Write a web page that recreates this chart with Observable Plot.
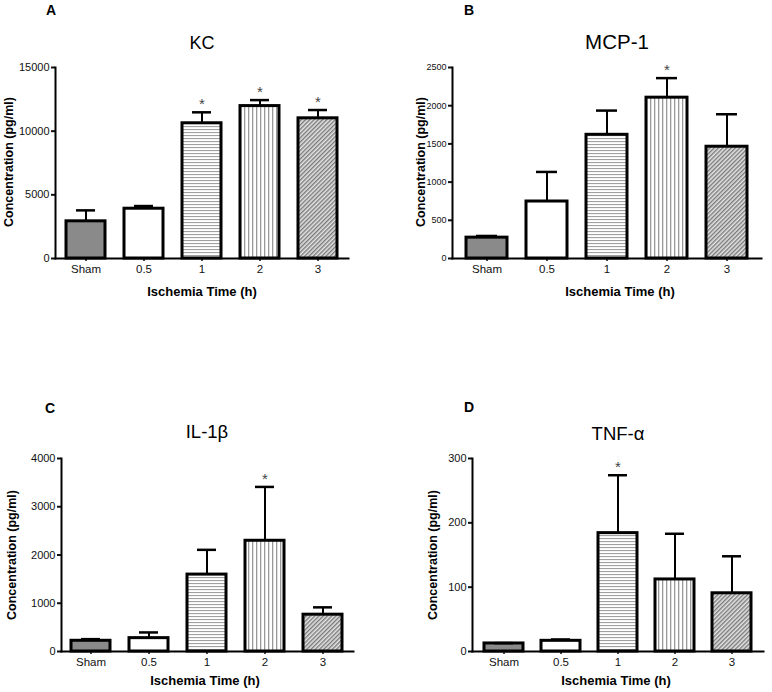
<!DOCTYPE html>
<html>
<head>
<meta charset="utf-8">
<script src="https://cdn.jsdelivr.net/npm/d3@7"></script>
<script src="https://cdn.jsdelivr.net/npm/@observablehq/plot@0.6"></script>
<style>
  html, body { margin: 0; padding: 0; background: #fff; }
  #root { position: relative; width: 772px; height: 692px; overflow: hidden;
          font-family: Arial, "Liberation Sans", sans-serif; color: #000; }
  .panel { position: absolute; }
  .lbl { position: absolute; white-space: nowrap; transform: translate(-50%, -50%); line-height: 1; }
  .letter { font-size: 14px; font-weight: bold; }
  .title { font-size: 18px; }
  .ytitle { font-size: 12.5px; font-weight: bold; transform: translate(-50%, -50%) rotate(-90deg); }
  .xtitle { font-size: 13px; font-weight: bold; }
</style>
</head>
<body>
<div id="root"></div>
<script>
// ---- data ----
const groups = ["Sham", "0.5", "1", "2", "3"];

const kcMean  = [2920, 3910, 10620, 11970, 11010];
const kcUpper = [3780, 4120, 11480, 12440, 11660];
const kcSig   = [false, false, true, true, true];
const kcTicks = [0, 5000, 10000, 15000];

const mcpMean  = [273, 746, 1619, 2105, 1463];
const mcpUpper = [295, 1133, 1936, 2361, 1888];
const mcpSig   = [false, false, false, true, false];
const mcpTicks = [0, 500, 1000, 1500, 2000, 2500];

const ilMean  = [222, 277, 1594, 2295, 763];
const ilUpper = [256, 395, 2107, 3411, 915];
const ilSig   = [false, false, false, true, false];
const ilTicks = [0, 1000, 2000, 3000, 4000];

const tnfMean  = [12.5, 16.6, 184, 112, 90.5];
const tnfUpper = [13, 18.7, 274, 183, 148];
const tnfSig   = [false, false, true, false, false];
const tnfTicks = [0, 100, 200, 300];

const panelLetters = ["A", "B", "C", "D"];
const panelTitles  = ["KC", "MCP-1", "IL-1β", "TNF-α"];
const yAxisTitle = "Concentration (pg/ml)";
const xAxisTitle = "Ischemia Time (h)";

// ---- layout (styling only) ----
const layouts = [
  {left: 0,   top: 0,   w: 386, h: 300, ml: 55, mr: 38, mt: 67,  mb: 42, po: 0.18, yfs: 11, tfs: 18,
   letter: [51, 10],  title: [202, 43],  ytitle: [9, 162],   xtitle: [202, 291]},
  {left: 386, top: 0,   w: 386, h: 300, ml: 66, mr: 11, mt: 67,  mb: 42, po: 0.22, yfs: 9, tfs: 20.5,
   letter: [469, 10], title: [617, 42],  ytitle: [421, 162], xtitle: [620, 291]},
  {left: 0,   top: 340, w: 386, h: 352, ml: 61, mr: 33, mt: 118, mb: 41, po: 0.17, yfs: 11, tfs: 18.5,
   letter: [50, 408], title: [207, 432], ytitle: [12, 555],  xtitle: [205, 680]},
  {left: 386, top: 340, w: 386, h: 352, ml: 86, mr: 9,  mt: 118, mb: 41, po: 0.17, yfs: 11, tfs: 18.5,
   letter: [469, 407], title: [618, 434], ytitle: [433, 555], xtitle: [616, 680]}
];

const series = [
  {mean: kcMean,  upper: kcUpper,  sig: kcSig,  ticks: kcTicks},
  {mean: mcpMean, upper: mcpUpper, sig: mcpSig, ticks: mcpTicks},
  {mean: ilMean,  upper: ilUpper,  sig: ilSig,  ticks: ilTicks},
  {mean: tnfMean, upper: tnfUpper, sig: tnfSig, ticks: tnfTicks}
];

function addPatterns(svg, id) {
  const defs = d3.select(svg).insert("defs", ":first-child");
  // horizontal stripes
  const h = defs.append("pattern").attr("id", id + "-h")
    .attr("patternUnits", "userSpaceOnUse").attr("width", 6).attr("height", 3);
  h.append("rect").attr("width", 6).attr("height", 3).attr("fill", "#fff");
  h.append("rect").attr("y", 0).attr("width", 6).attr("height", 1.1).attr("fill", "#a0a0a0");
  // vertical stripes
  const v = defs.append("pattern").attr("id", id + "-v")
    .attr("patternUnits", "userSpaceOnUse").attr("width", 4).attr("height", 6);
  v.append("rect").attr("width", 4).attr("height", 6).attr("fill", "#fff");
  v.append("rect").attr("x", 0).attr("width", 1.3).attr("height", 6).attr("fill", "#999");
  // diagonal hatch ////
  const dg = defs.append("pattern").attr("id", id + "-d")
    .attr("patternUnits", "userSpaceOnUse").attr("width", 3).attr("height", 3)
    .attr("patternTransform", "rotate(45)");
  dg.append("rect").attr("width", 3).attr("height", 3).attr("fill", "#e4e4e4");
  dg.append("rect").attr("x", 0).attr("width", 1.4).attr("height", 3).attr("fill", "#7a7a7a");
}

const root = document.getElementById("root");

series.forEach((s, k) => {
  const L = layouts[k];
  const pid = "pat" + k;
  const fills = ["#8a8a8a", "#ffffff", `url(#${pid}-h)`, `url(#${pid}-v)`, `url(#${pid}-d)`];
  const data = groups.map((g, i) => ({g, mean: s.mean[i], upper: s.upper[i], sig: s.sig[i], fill: fills[i]}));
  const yMax = s.ticks[s.ticks.length - 1];

  const chart = Plot.plot({
    width: L.w, height: L.h,
    marginLeft: L.ml, marginRight: L.mr, marginTop: L.mt, marginBottom: L.mb,
    style: {fontFamily: "Arial, 'Liberation Sans', sans-serif", fontSize: "11px", color: "#111", background: "transparent", overflow: "visible"},
    x: {type: "band", domain: groups, paddingInner: 0.32, paddingOuter: L.po, label: null},
    y: {domain: [0, yMax], label: null},
    color: {type: "identity"},
    marks: [
      Plot.barY(data, {x: "g", y: "mean", fill: "fill", stroke: "#000", strokeWidth: 3}),
      Plot.ruleX(data, {x: "g", y1: "mean", y2: "upper", stroke: "#000", strokeWidth: 2}),
      Plot.tickY(data, {x: "g", y: "upper", stroke: "#000", strokeWidth: 2.5, insetLeft: 10, insetRight: 10}),
      Plot.text(data.filter(d => d.sig), {x: "g", y: "upper", text: () => "*", dy: -8, fontSize: 15, fill: "#444"}),
      Plot.axisY({ticks: s.ticks, tickFormat: "d", tickSize: 4, tickPadding: 2, strokeWidth: 2, fontSize: L.yfs, label: null}),
      Plot.axisX({tickSize: 3, tickPadding: 3, strokeWidth: 1.5, fontSize: 11.5, label: null}),
      Plot.frame({anchor: "left", strokeWidth: 2, stroke: "#000"}),
      Plot.frame({anchor: "bottom", strokeWidth: 2, stroke: "#000"})
    ]
  });
  addPatterns(chart, pid);
  chart.classList.add("panel");
  chart.style.left = L.left + "px";
  chart.style.top = L.top + "px";
  root.appendChild(chart);

  const addLabel = (text, cls, xy, fs) => {
    const d = document.createElement("div");
    d.className = "lbl " + cls;
    d.textContent = text;
    d.style.left = xy[0] + "px";
    d.style.top = xy[1] + "px";
    if (fs) d.style.fontSize = fs + "px";
    root.appendChild(d);
  };
  addLabel(panelLetters[k], "letter", L.letter);
  addLabel(panelTitles[k], "title", L.title, L.tfs);
  addLabel(yAxisTitle, "ytitle", L.ytitle);
  addLabel(xAxisTitle, "xtitle", L.xtitle);
});
</script>
</body>
</html>
